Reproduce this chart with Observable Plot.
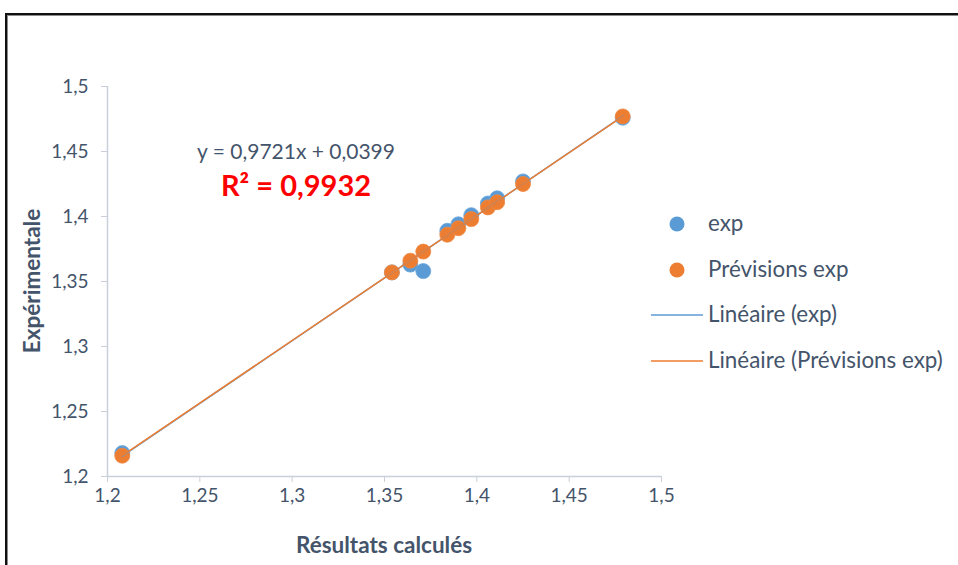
<!DOCTYPE html>
<html><head><meta charset="utf-8">
<script src="https://cdn.jsdelivr.net/npm/d3@7"></script>
<script src="https://cdn.jsdelivr.net/npm/@observablehq/plot@0.6"></script>
<style>
body{margin:0;background:#fff;}
#wrap{position:relative;width:958px;height:565px;overflow:hidden;font-family:Lato,"Open Sans",sans-serif;color:#44546a;}
#frame{position:absolute;left:5px;top:13px;width:1000px;height:600px;border-top:2px solid #111;border-left:2px solid #111;box-shadow:inset 1px 1px 0 #8a8a8a;}
#chart{position:absolute;left:0;top:0;}
.lbl{position:absolute;white-space:nowrap;font-weight:bold;font-size:22.5px;color:#44546a;}
#eq{position:absolute;left:296px;top:150px;transform:translate(-50%,-50%);font-size:21px;white-space:nowrap;color:#44546a;}
#r2{position:absolute;left:296px;top:184px;transform:translate(-50%,-50%);font-size:29px;font-weight:bold;color:#ff0000;white-space:nowrap;}
.leg{position:absolute;left:651px;font-size:22.4px;white-space:nowrap;color:#44546a;}
.leg .sym{display:inline-block;width:52px;position:relative;vertical-align:middle;height:20px;}
.leg .txt{vertical-align:middle;margin-left:5px;}
</style></head>
<body>
<div id="wrap">
  <div id="frame"></div>
  <div id="chart"></div>
  <div id="eq"></div>
  <div id="r2"></div>
  <div class="lbl" id="ylab" style="left:31px;top:281px;transform:translate(-50%,-50%) rotate(-90deg);"></div>
  <div class="lbl" id="xlab" style="left:384px;top:544px;transform:translate(-50%,-50%);"></div>
  <div id="legend"></div>
</div>
<script>
// Data
const calc  = [1.208, 1.354, 1.364, 1.371, 1.384, 1.390, 1.397, 1.406, 1.411, 1.425, 1.479];
const expV  = [1.218, 1.357, 1.363, 1.358, 1.389, 1.394, 1.401, 1.410, 1.414, 1.427, 1.476];
const prevV = [1.216, 1.357, 1.366, 1.373, 1.386, 1.391, 1.398, 1.407, 1.411, 1.425, 1.477];
const seriesNames = ["exp", "Prévisions exp", "Linéaire (exp)", "Linéaire (Prévisions exp)"];
const seriesColors = ["#5b9bd5", "#ed7d31"];
const xTicks = [1.2, 1.25, 1.3, 1.35, 1.4, 1.45, 1.5];
const xTickLabels = ["1,2", "1,25", "1,3", "1,35", "1,4", "1,45", "1,5"];
const yTicks = [1.2, 1.25, 1.3, 1.35, 1.4, 1.45, 1.5];
const yTickLabels = ["1,2", "1,25", "1,3", "1,35", "1,4", "1,45", "1,5"];
const equationText = "y = 0,9721x + 0,0399";
const r2Text = "R² = 0,9932";
const xTitle = "Résultats calculés";
const yTitle = "Expérimentale";

const expData = calc.map((x, i) => ({x, y: expV[i]}));
const prevData = calc.map((x, i) => ({x, y: prevV[i]}));
const axisColor = "#c9d0db";
const textColor = "#44546a";

const chart = Plot.plot({
  width: 958, height: 565,
  marginLeft: 107, marginRight: 297, marginTop: 86, marginBottom: 89,
  style: {fontFamily: "Lato, 'Open Sans', sans-serif", fontSize: "19px", color: textColor, background: "transparent"},
  x: {domain: [1.2, 1.5]},
  y: {domain: [1.2, 1.5]},
  marks: [
    Plot.axisX({ticks: xTicks, tickFormat: (d) => xTickLabels[xTicks.indexOf(d)], tickSize: 6, tickPadding: 6, stroke: axisColor, fill: textColor, label: null, fontSize: 19}),
    Plot.axisY({ticks: yTicks, tickFormat: (d) => yTickLabels[yTicks.indexOf(d)], tickSize: 6, tickPadding: 13, stroke: axisColor, fill: textColor, label: null, fontSize: 19}),
    Plot.ruleX([xTicks[0]], {stroke: axisColor, strokeWidth: 1.5}),
    Plot.ruleY([yTicks[0]], {stroke: axisColor, strokeWidth: 1.5}),
    Plot.dot(expData, {x: "x", y: "y", r: 7.5, fill: seriesColors[0], stroke: "#6aa6dc", strokeWidth: 0.8}),
    Plot.dot(prevData, {x: "x", y: "y", r: 7.5, fill: seriesColors[1], stroke: "#f08a44", strokeWidth: 0.8}),
    Plot.linearRegressionY(expData, {x: "x", y: "y", stroke: seriesColors[0], strokeWidth: 1.5, ci: 0}),
    Plot.linearRegressionY(prevData, {x: "x", y: "y", stroke: seriesColors[1], strokeWidth: 1.5, ci: 0})
  ]
});
document.getElementById("chart").appendChild(chart);

document.getElementById("eq").textContent = equationText;
document.getElementById("r2").textContent = r2Text;
document.getElementById("xlab").textContent = xTitle;
document.getElementById("ylab").textContent = yTitle;

const legTops = [223, 269, 314, 360];
const legend = document.getElementById("legend");
seriesNames.forEach((name, i) => {
  const row = document.createElement("div");
  row.className = "leg";
  row.style.top = (legTops[i] - 17) + "px";
  const sym = document.createElement("span");
  sym.className = "sym";
  const color = seriesColors[i % 2];
  if (i < 2) {
    sym.innerHTML = `<svg width="52" height="20"><circle cx="26" cy="10" r="7.5" fill="${color}"/></svg>`;
  } else {
    sym.innerHTML = `<svg width="52" height="20"><line x1="0" x2="52" y1="10" y2="10" stroke="${color}" stroke-width="1.5"/></svg>`;
  }
  const txt = document.createElement("span");
  txt.className = "txt";
  txt.textContent = name;
  row.appendChild(sym); row.appendChild(txt);
  legend.appendChild(row);
});
</script>
</body></html>
